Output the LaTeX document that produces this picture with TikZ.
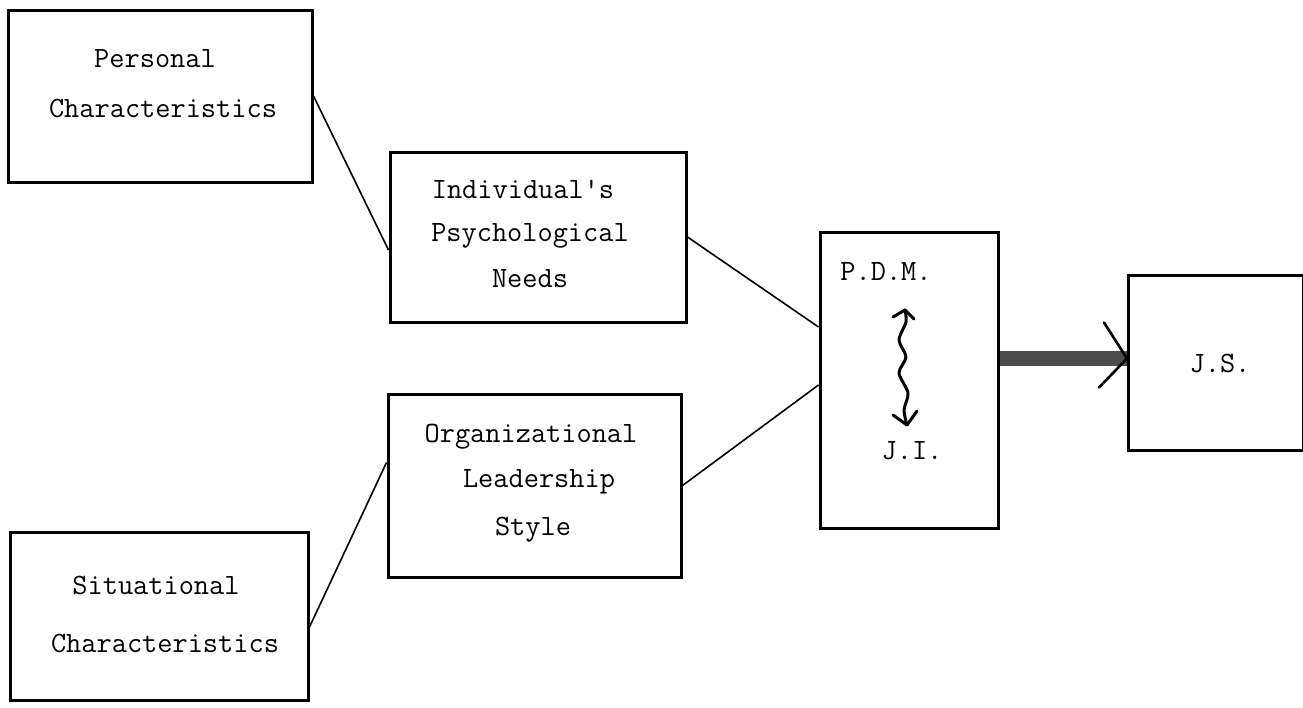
\documentclass[tikz,border=0pt]{standalone}
\begin{document}
\begin{tikzpicture}[x=1pt,y=-1pt,
  box/.style={draw, line width=3pt, inner sep=0pt},
  lbl/.style={font=\ttfamily\fontsize{29.5}{34}\selectfont, inner sep=0pt, anchor=center},
  conn/.style={line width=1.6pt}]
\useasboundingbox (0,0) rectangle (1303,707);
% boxes
\node[box, minimum width=304pt, minimum height=172pt] (pc) at (160,96) {};
\node[box, minimum width=296pt, minimum height=170pt] (ind) at (538,237) {};
\node[box, minimum width=293pt, minimum height=183pt] (org) at (534.5,485.5) {};
\node[box, minimum width=298pt, minimum height=168pt] (sc) at (159,616) {};
\node[box, minimum width=178pt, minimum height=296pt] (pdm) at (909,380) {};
\node[box, minimum width=175pt, minimum height=175pt] (js) at (1216,362.5) {};
% texts
\node[lbl] (t1) at (155,59) {Personal};
\node[lbl] (t2) at (163,108) {Characteristics};
\node[lbl] (t3) at (523,189) {Individual's};
\node[lbl] (t4) at (530,236) {Psychological};
\node[lbl] (t5) at (530,279) {Needs};
\node[lbl] (t6) at (531,437) {Organizational};
\node[lbl] (t7) at (539,482) {Leadership};
\node[lbl] (t8) at (533,530) {Style};
\node[lbl] (t9) at (156,585) {Situational};
\node[lbl] (t10) at (165,643) {Characteristics};
\node[lbl] (t11) at (886,271) {P.D.M.};
\node[lbl] (t12) at (912,451) {J.I.};
\node[lbl] (t13) at (1220,363) {J.S.};
% connectors
\draw[conn] (pc.east) -- ([yshift=-13pt]ind.west);
\draw[conn] ([yshift=-11pt]sc.east) -- ([yshift=23pt]org.west);
\draw[conn] (ind.east) -- ([yshift=53pt]pdm.west);
\draw[conn] (org.east) -- ([yshift=-5pt]pdm.west);
% thick arrow
\coordinate (tip) at ([yshift=4pt]js.west);
\draw[line width=15pt, color=black!70] (pdm.east |- tip) -- (tip);
\draw[line width=2.6pt, line cap=round] (tip) -- ++(-23,-36);
\draw[line width=2.6pt, line cap=round] (tip) -- ++(-28,29);
% wavy double arrow
\coordinate (wa) at (905,310);
\coordinate (wb) at (907,425);
\draw[line width=3pt, line cap=round, line join=round]
  plot[smooth] coordinates {(wa) (906,322) (899,340) (906,357) (899,373) (908,393) (904,410) (wb)};
\draw[line width=3pt, line cap=round, line join=round] (893,317) -- (wa) -- (914,319);
\draw[line width=3pt, line cap=round, line join=round] (893,415) -- (wb) -- (917,411);
\end{tikzpicture}
\end{document}
